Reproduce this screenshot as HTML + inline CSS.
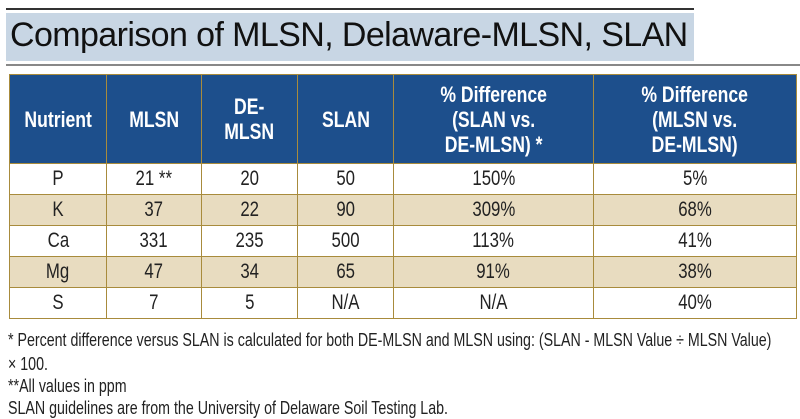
<!DOCTYPE html>
<html><head><meta charset="utf-8"><style>
body{margin:0;width:800px;height:416px;background:#fff;position:relative;overflow:hidden;font-family:"Liberation Sans",sans-serif;}
.t{position:absolute;}
table{position:absolute;left:9px;top:74px;border-collapse:collapse;width:787px;table-layout:fixed;}
td,th{border:1.5px solid #a88b3c;text-align:center;padding:0;}
th{background:#1d4f8c;color:#fff;font-weight:bold;font-size:22px;line-height:25px;height:88px;}
td{font-size:21px;color:#222;height:30px;}
th span,td span{display:inline-block;transform:scaleX(0.8);white-space:nowrap;}
tr.k td{background:#e8dcc0;}
.f{position:absolute;left:8px;font-size:18px;color:#222;white-space:nowrap;transform:scaleX(0.79);transform-origin:0 0;}
</style></head><body>
<div class="t" style="left:6px;top:8px;width:688px;height:2px;background:#333"></div>
<div class="t" style="left:6px;top:13px;width:688px;height:48px;background:#c8d6e4"></div>
<div class="t" style="left:10px;top:16px;font-size:34px;color:#111;white-space:nowrap;letter-spacing:-0.6px">Comparison of MLSN, Delaware-MLSN, SLAN</div>
<div class="t" style="left:6px;top:64px;width:794px;height:2px;background:#888"></div>
<table>
<colgroup><col style="width:97px"><col style="width:95px"><col style="width:96px"><col style="width:96px"><col style="width:200px"><col style="width:203px"></colgroup>
<tr><th><span>Nutrient</span></th><th><span>MLSN</span></th><th><span>DE-<br>MLSN</span></th><th><span>SLAN</span></th><th><span>% Difference<br>(SLAN vs.<br>DE-MLSN) *</span></th><th><span>% Difference<br>(MLSN vs.<br>DE-MLSN)</span></th></tr>
<tr><td><span>P</span></td><td><span>21 **</span></td><td><span>20</span></td><td><span>50</span></td><td><span>150%</span></td><td><span>5%</span></td></tr>
<tr class="k"><td><span>K</span></td><td><span>37</span></td><td><span>22</span></td><td><span>90</span></td><td><span>309%</span></td><td><span>68%</span></td></tr>
<tr><td><span>Ca</span></td><td><span>331</span></td><td><span>235</span></td><td><span>500</span></td><td><span>113%</span></td><td><span>41%</span></td></tr>
<tr class="k"><td><span>Mg</span></td><td><span>47</span></td><td><span>34</span></td><td><span>65</span></td><td><span>91%</span></td><td><span>38%</span></td></tr>
<tr><td><span>S</span></td><td><span>7</span></td><td><span>5</span></td><td><span>N/A</span></td><td><span>N/A</span></td><td><span>40%</span></td></tr>
</table>
<div class="f" style="top:330px">* Percent difference versus SLAN is calculated for both DE-MLSN and MLSN using: (SLAN - MLSN Value ÷ MLSN Value)</div>
<div class="f" style="top:354px">× 100.</div>
<div class="f" style="top:376px">**All values in ppm</div>
<div class="f" style="top:398px">SLAN guidelines are from the University of Delaware Soil Testing Lab.</div>
</body></html>
